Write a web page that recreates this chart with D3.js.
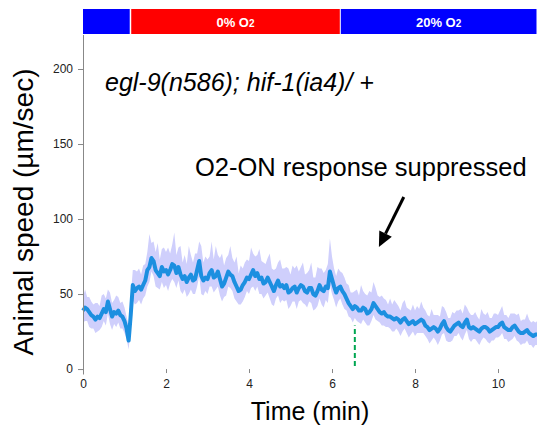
<!DOCTYPE html>
<html>
<head>
<meta charset="utf-8">
<script src="https://cdn.jsdelivr.net/npm/d3@7"></script>
<style>
  body { margin: 0; background: #fff; }
  svg text { font-family: Arial, "Liberation Sans", sans-serif; }
  .axis path, .axis line { stroke: #888; }
  .axis text { fill: #222; font-size: 12px; }
</style>
</head>
<body>
<div id="chart"></div>
<script>
// Data ---------- ---------- ----------
// sampled every 0.05 min, speed in µm/sec (one row = one minute)
let sampleStep = 0.05;
let speedMean = [
  39,41,40,38,36,35,33,35,34,37,40,38,45,40,35,38,37,39,36,35,
  32,27,19,36,56,52,54,55,53,56,59,66,68,74,72,66,64,62,68,65,
  66,63,66,70,69,64,68,63,60,62,58,61,63,59,60,66,72,62,59,61,
  60,64,66,61,62,65,60,55,57,61,65,63,62,58,55,52,53,56,58,61,
  60,63,66,62,64,60,61,57,58,61,58,55,52,56,59,55,56,54,56,51,
  52,54,55,51,54,56,55,52,51,54,54,50,49,52,56,53,52,55,54,65,
  60,55,51,54,55,52,50,47,44,42,40,42,41,39,39,41,40,37,38,40,
  44,42,40,38,37,38,36,35,35,34,33,34,33,31,33,34,32,30,31,32,
  30,31,32,33,32,29,28,26,27,28,27,25,27,30,32,28,26,25,27,29,
  30,31,29,28,31,33,28,27,28,27,26,25,27,28,28,27,25,26,27,28,
  28,30,31,28,27,26,26,28,29,27,25,24,24,25,26,24,23,22,23,23
];
let errUp = [
  9,12,8,10,9,8,11,9,8,12,10,9,8,11,9,8,12,9,8,10,
  9,8,10,12,10,14,11,12,10,13,11,12,22,10,13,12,20,11,12,16,
  12,18,11,13,22,12,13,19,11,14,12,21,13,12,17,11,13,20,12,14,
  13,11,19,12,20,11,14,22,12,13,11,19,12,13,20,12,16,11,13,12,
  12,18,11,13,12,20,11,14,12,13,19,12,14,11,12,18,11,13,12,16,
  11,15,12,18,11,12,16,11,13,12,17,11,12,16,11,14,12,11,16,22,
  15,12,11,13,10,12,11,10,12,9,11,10,12,10,17,11,10,12,14,11,
  14,12,9,10,12,9,10,8,12,9,13,10,9,8,11,12,9,10,8,11,
  9,11,8,12,9,10,8,9,13,8,9,11,8,12,9,10,8,9,11,8,
  9,8,11,9,12,8,10,9,8,11,9,8,13,9,8,11,9,8,10,9,
  8,9,11,8,9,8,11,9,8,9,12,8,9,8,11,9,8,10,8,9
];
let errDown = [
  8,9,8,10,9,8,9,10,8,9,8,9,8,10,9,8,9,8,9,8,
  8,7,6,8,10,9,10,9,10,9,10,11,10,9,10,11,10,9,10,11,
  10,11,9,10,11,10,9,11,10,9,10,11,10,9,10,11,10,12,10,9,
  10,9,11,10,9,10,11,10,9,12,10,9,10,11,10,9,10,11,10,9,
  10,9,11,10,9,10,11,10,9,10,11,12,10,9,10,11,10,9,10,11,
  10,9,10,11,9,10,11,9,10,9,10,11,9,10,9,10,11,9,10,9,
  10,9,10,9,8,9,10,8,9,8,9,8,9,8,9,8,9,8,9,8,
  8,9,8,7,8,9,8,7,8,9,8,7,8,9,8,7,8,9,8,7,
  8,7,8,9,8,7,8,9,8,7,8,9,8,7,8,9,8,7,8,7,
  8,7,8,9,8,7,8,9,8,7,8,9,8,7,8,9,8,7,8,7,
  7,8,7,8,7,8,7,8,7,8,7,8,7,8,7,8,7,8,7,7
];
let phaseLabels = ["", "0% O", "20% O"];
let phaseStarts = [0, 1.15, 6.2];
let phaseEnds = [1.15, 6.2, 11];
let phaseColors = ["#0000ff", "#ff0000", "#0000ff"];
let xTicks = [0, 2, 4, 6, 8, 10];
let yTicks = [0, 50, 100, 150, 200];
let markerTime = 6.55, markerRange = [2, 29];          // green dashed line
let arrowFrom = [7.73, 114.7], arrowTo = [7.13, 81.3];  // annotation arrow
let title = "egl-9(n586); hif-1(ia4)/ +", note = "O2-ON response suppressed";

// Setup ---------- ---------- ----------
let canvasW = 537, canvasH = 427;
let lineBlue = "#1c8fe0", bandColor = "#cfcffc";
let svg = d3.select("#chart").append("svg").attr("width", canvasW).attr("height", canvasH);

let xScale = d3.scaleLinear().domain([0, 11]).range([83, 539.5]);
let yScale = d3.scaleLinear().domain([-3.3, 223]).range([374, 34.5]);

let data = speedMean.map((m, i) => ({t: i * sampleStep, m: m, hi: m + errUp[i], lo: m - errDown[i]}));

// Oxygen bar
let bar = svg.append("g");
phaseLabels.forEach((lab, i) => {
    let x0 = xScale(phaseStarts[i]), x1 = Math.min(xScale(phaseEnds[i]), canvasW);
    bar.append("rect").attr("x", x0 + (i ? 0.5 : 0)).attr("y", 9).attr("width", x1 - x0 - 1).attr("height", 25)
        .attr("fill", phaseColors[i]);
    if (lab) {
        let t = bar.append("text").attr("x", (x0 + x1) / 2).attr("y", 27).attr("text-anchor", "middle")
            .attr("fill", "#fff").attr("font-weight", "bold").attr("font-size", 13).text(lab);
        t.append("tspan").attr("font-size", 10).text("2");
    }
});

// Band and mean line
svg.append("path").datum(data).attr("fill", bandColor)
    .attr("d", d3.area().x(d => xScale(d.t)).y0(d => yScale(d.lo)).y1(d => yScale(d.hi)));
svg.append("path").datum(data).attr("fill", "none").attr("stroke", lineBlue).attr("stroke-width", 4)
    .attr("stroke-linejoin", "round")
    .attr("d", d3.line().x(d => xScale(d.t)).y(d => yScale(d.m)));

// Green marker
svg.append("line").attr("x1", xScale(markerTime)).attr("x2", xScale(markerTime))
    .attr("y1", yScale(markerRange[0])).attr("y2", yScale(markerRange[1]))
    .attr("stroke", "#00a651").attr("stroke-width", 2).attr("stroke-dasharray", "5,3");

// Axes
let yAxis = svg.append("g").attr("class", "axis").attr("transform", "translate(83,0)")
    .call(d3.axisLeft(yScale).tickValues(yTicks).tickSizeInner(5).tickSizeOuter(0).tickPadding(5));
let xAxis = svg.append("g").attr("class", "axis").attr("transform", "translate(0," + yScale(0) + ")")
    .call(d3.axisBottom(xScale).tickValues(xTicks).tickSize(4).tickPadding(6));
xAxis.select(".domain").remove();

// Axis titles
svg.append("text").attr("transform", "translate(33,212) rotate(-90)").attr("text-anchor", "middle")
    .attr("font-size", 28).text("Animal speed (µm/sec)");
svg.append("text").attr("x", 310).attr("y", 420).attr("text-anchor", "middle")
    .attr("font-size", 25).text("Time (min)");

// Annotations
svg.append("text").attr("x", 105).attr("y", 91).attr("font-size", 25).attr("font-style", "italic").text(title);
svg.append("text").attr("x", 195).attr("y", 176).attr("font-size", 25.5).text(note);

let ax0 = xScale(arrowFrom[0]), ay0 = yScale(arrowFrom[1]), ax1 = xScale(arrowTo[0]), ay1 = yScale(arrowTo[1]);
let ang = Math.atan2(ay1 - ay0, ax1 - ax0), headL = 15, headW = 7;
let bx = ax1 - headL * Math.cos(ang), by = ay1 - headL * Math.sin(ang);
svg.append("line").attr("x1", ax0).attr("y1", ay0).attr("x2", bx).attr("y2", by)
    .attr("stroke", "#000").attr("stroke-width", 3);
svg.append("path").attr("fill", "#000")
    .attr("d", d3.line()([[ax1, ay1],
        [bx + headW * Math.sin(ang), by - headW * Math.cos(ang)],
        [bx - headW * Math.sin(ang), by + headW * Math.cos(ang)]]) + "Z");
</script>
</body>
</html>
